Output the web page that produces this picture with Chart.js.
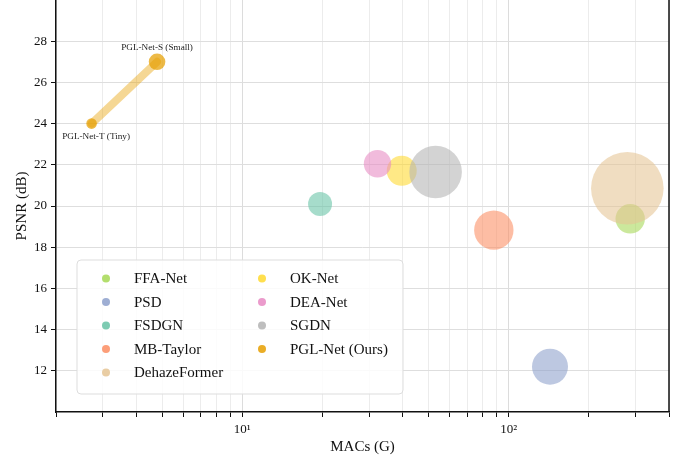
<!DOCTYPE html>
<html>
<head>
<meta charset="utf-8">
<title>PSNR vs MACs</title>
<script src="https://cdn.jsdelivr.net/npm/chart.js@4.4.1/dist/chart.umd.min.js"></script>
<style>
  html, body { margin: 0; padding: 0; background: #fff; }
  #wrap { width: 683px; height: 464px; position: relative; }
</style>
</head>
<body>
<div id="wrap"><canvas id="bubbleChart"></canvas></div>
<script>
// compared methods
const models = ['FFA-Net', 'PSD', 'FSDGN', 'MB-Taylor', 'DehazeFormer', 'OK-Net', 'DEA-Net', 'SGDN'];
const macs = [286, 143, 19.6, 88, 279, 39.7, 32.2, 53.2];
const psnr = [19.38, 12.2, 20.1, 18.83, 20.86, 21.71, 22.05, 21.65];
const bubbleSize = [14.7, 18, 12, 19.7, 36.3, 15, 13.7, 26.3];

// our two variants
const pglName = 'PGL-Net (Ours)';
const pglVariants = ['PGL-Net-T (Tiny)', 'PGL-Net-S (Small)'];
const pglMacs = [2.72, 4.79];
const pglPsnr = [24.0, 27.0];
const pglSize = [5.3, 8.3];

// axes
const xTickValues = [2, 3, 4, 5, 6, 7, 8, 9, 10, 20, 30, 40, 50, 60, 70, 80, 90, 100, 200, 300, 400];
const xTickLabels = { 10: '10¹', 100: '10²' };

const palette = ['#a6d854', '#8da0cb', '#66c2a5', '#fc8d62', '#e5c494', '#ffd92f', '#e78ac3', '#b3b3b3'];
const pglColor = '#e69f00';
const serif = 'Liberation Serif';

function alpha(hex, a) {
    const n = parseInt(hex.slice(1), 16);
    return `rgba(${n >> 16}, ${(n >> 8) & 255}, ${n & 255}, ${a})`;
}

const datasets = models.map((name, i) => ({
    type: 'bubble',
    label: name,
    data: [{ x: macs[i], y: psnr[i], r: bubbleSize[i] }],
    backgroundColor: alpha(palette[i], 0.58),
    borderWidth: 0,
    order: 50 - i
}));

datasets.push({
    type: 'bubble',
    label: pglName,
    data: pglMacs.map((x, i) => ({ x: x, y: pglPsnr[i], r: pglSize[i] })),
    backgroundColor: alpha(pglColor, 0.72),
    borderWidth: 0,
    order: 10
});

datasets.push({
    type: 'line',
    label: 'pgl-link',
    data: pglMacs.map((x, i) => ({ x: x, y: pglPsnr[i] })),
    borderColor: alpha(pglColor, 0.42),
    borderWidth: 8,
    borderCapStyle: 'round',
    pointRadius: 0,
    fill: false,
    order: 100
});

// legend inside the plot, lower left, two columns
const insideLegend = {
    id: 'insideLegend',
    afterDraw(chart) {
        const ctx = chart.ctx;
        const area = chart.chartArea;
        const w = 326, h = 134;
        const x0 = area.left + 21, y0 = area.bottom - 18 - h;
        ctx.save();
        ctx.beginPath();
        ctx.roundRect(x0, y0, w, h, 4);
        ctx.fillStyle = 'rgba(255,255,255,0.85)';
        ctx.fill();
        ctx.strokeStyle = '#dddddd';
        ctx.lineWidth = 1;
        ctx.stroke();

        const names = models.concat([pglName]);
        const cols = palette.concat([pglColor]);
        ctx.font = `15px "${serif}"`;
        ctx.textBaseline = 'middle';
        ctx.textAlign = 'left';
        names.forEach((name, i) => {
            const col = i < 5 ? 0 : 1;
            const row = col === 0 ? i : i - 5;
            const mx = x0 + (col === 0 ? 29 : 185);
            const my = y0 + 18.5 + row * 23.5;
            ctx.beginPath();
            ctx.arc(mx, my, 4, 0, Math.PI * 2);
            ctx.fillStyle = alpha(cols[i], 0.85);
            ctx.fill();
            ctx.fillStyle = '#111';
            ctx.fillText(name, mx + 28, my + 1);
        });
        ctx.restore();
    }
};

// labels next to the two PGL points + right spine
const pglNotes = {
    id: 'pglNotes',
    afterDatasetsDraw(chart) {
        const ctx = chart.ctx;
        const idx = chart.data.datasets.findIndex(d => d.label === pglName);
        const pts = chart.getDatasetMeta(idx).data;
        ctx.save();
        ctx.font = `9.2px "${serif}"`;
        ctx.fillStyle = '#222';
        ctx.textAlign = 'center';
        ctx.textBaseline = 'middle';
        ctx.fillText(pglVariants[0], pts[0].x + 4.5, pts[0].y + 13);
        ctx.fillText(pglVariants[1], pts[1].x, pts[1].y - 14);

        const a = chart.chartArea;
        ctx.strokeStyle = '#111';
        ctx.lineWidth = 1.5;
        ctx.beginPath();
        ctx.moveTo(a.right, a.top);
        ctx.lineTo(a.right, a.bottom);
        ctx.stroke();
        ctx.restore();
    }
};

const isMajor = v => v === 10 || v === 100;

new Chart(document.getElementById('bubbleChart'), {
    type: 'bubble',
    data: { datasets: datasets },
    options: {
        responsive: true,
        maintainAspectRatio: false,
        animation: false,
        layout: { autoPadding: false, padding: { top: 0, right: 14, bottom: 0, left: 0 } },
        plugins: {
            legend: { display: false },
            tooltip: { enabled: false }
        },
        scales: {
            x: {
                type: 'logarithmic',
                min: 2,
                max: 400,
                afterBuildTicks: scale => {
                    scale.ticks = xTickValues.map(v => ({ value: v, major: isMajor(v) }));
                },
                afterFit: scale => {
                    scale.height = 52;
                    scale.paddingLeft = 0;
                    scale.paddingRight = 0;
                },
                ticks: {
                    autoSkip: false,
                    maxRotation: 0,
                    padding: 5,
                    color: '#111',
                    font: { family: serif, size: 13 },
                    callback: v => xTickLabels[v] || ''
                },
                grid: {
                    color: c => (c.tick && isMajor(c.tick.value)) ? '#dcdcdc' : '#ececec',
                    tickColor: '#111',
                    tickLength: 5
                },
                border: { color: '#111', width: 1.5 },
                title: {
                    display: true,
                    text: 'MACs (G)',
                    color: '#111',
                    font: { family: serif, size: 15 },
                    padding: { top: 0, bottom: 8 }
                }
            },
            y: {
                type: 'linear',
                min: 10,
                max: 30,
                afterFit: scale => {
                    scale.width = 56;
                    scale.paddingTop = 0;
                    scale.paddingBottom = 0;
                },
                ticks: {
                    stepSize: 2,
                    padding: 4,
                    color: '#111',
                    font: { family: serif, size: 13 },
                    callback: v => (v <= 10 || v >= 30) ? null : v
                },
                grid: {
                    color: '#dedede',
                    tickColor: '#111',
                    tickLength: 5
                },
                border: { color: '#111', width: 1.5 },
                title: {
                    display: true,
                    text: 'PSNR (dB)',
                    color: '#111',
                    font: { family: serif, size: 15 },
                    padding: { top: 13, bottom: 0 }
                }
            }
        }
    },
    plugins: [insideLegend, pglNotes]
});
</script>
</body>
</html>
